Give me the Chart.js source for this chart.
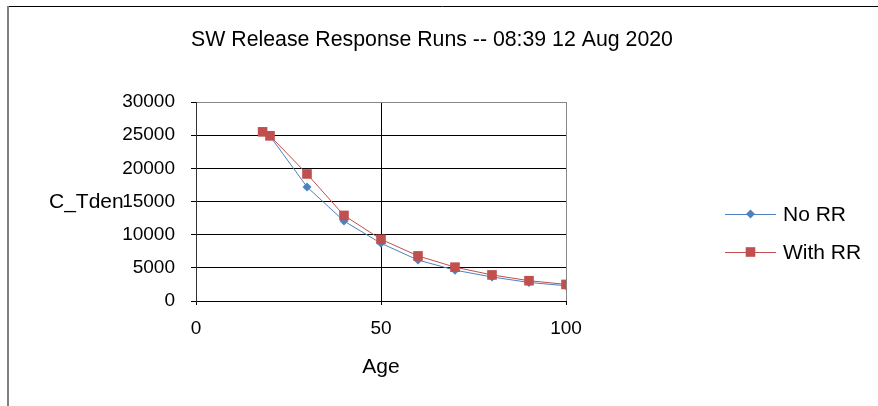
<!DOCTYPE html>
<html>
<head>
<meta charset="utf-8">
<script src="https://cdn.jsdelivr.net/npm/chart.js@4/dist/chart.umd.min.js"></script>
<style>
  html, body { margin: 0; padding: 0; background: #fff; }
  #wrap { width: 878px; height: 406px; position: relative; }
</style>
</head>
<body>
<div id="wrap"><canvas id="c" width="878" height="406"></canvas></div>
<script>
// Release response runs: C_Tden by age
const ages = [18, 20, 30, 40, 50, 60, 70, 80, 90, 100];
const noRR = [25500, 24850, 17200, 12050, 8700, 6170, 4650, 3620, 2800, 2300];
const withRR = [25500, 24900, 19150, 12900, 9300, 6800, 5100, 3930, 3060, 2500];
const xTicks = [0, 50, 100];
const yTicks = [0, 5000, 10000, 15000, 20000, 25000, 30000];
const chartTitle = 'SW Release Response Runs -- 08:39 12 Aug 2020';

const FONT = 'Liberation Sans, Arial, sans-serif';
const BLUE = '#4F81BD';
const RED = '#C0504D';

function pts(xs, ys) { return xs.map((x, i) => ({ x: x, y: ys[i] })); }

// frame lines, chart title, horizontal y-axis title and legend
const decor = {
  id: 'decor',
  beforeDraw(chart) {
    const ctx = chart.ctx;
    ctx.save();
    ctx.fillStyle = '#fff';
    ctx.fillRect(0, 0, chart.width, chart.height);
    ctx.strokeStyle = '#000';
    ctx.lineWidth = 1;
    ctx.beginPath();
    ctx.moveTo(7, 6.5);
    ctx.lineTo(chart.width, 6.5);
    ctx.stroke();
    ctx.strokeStyle = '#808080';
    ctx.lineWidth = 2;
    ctx.beginPath();
    ctx.moveTo(8, 6);
    ctx.lineTo(8, chart.height);
    ctx.stroke();
    ctx.restore();
  },
  afterDraw(chart) {
    const ctx = chart.ctx;
    const area = chart.chartArea;
    ctx.save();
    ctx.fillStyle = '#000';
    ctx.textBaseline = 'middle';

    ctx.font = '21.3px ' + FONT;
    ctx.textAlign = 'center';
    ctx.fillText(chartTitle, 432, 40);

    ctx.font = '21px ' + FONT;
    ctx.textAlign = 'left';
    ctx.fillText('C_Tden', 49, (area.top + area.bottom) / 2 + 1);

    // legend: short line with centered marker, then label
    const items = chart.data.datasets;
    const x0 = 725, x1 = 776, tx = 783;
    const ys = [214, 252];
    items.forEach((ds, i) => {
      const y = ys[i];
      ctx.strokeStyle = ds.borderColor;
      ctx.lineWidth = 1;
      ctx.beginPath();
      ctx.moveTo(x0, y + 0.5);
      ctx.lineTo(x1, y + 0.5);
      ctx.stroke();
      const cx = (x0 + x1) / 2;
      ctx.fillStyle = ds.pointBackgroundColor;
      ctx.beginPath();
      if (ds.pointStyle === 'rectRot') {
        const r = ds.pointRadius;
        ctx.moveTo(cx, y - r);
        ctx.lineTo(cx + r, y);
        ctx.lineTo(cx, y + r);
        ctx.lineTo(cx - r, y);
        ctx.closePath();
      } else {
        const h = Math.SQRT1_2 * ds.pointRadius;
        ctx.rect(cx - h, y - h, 2 * h, 2 * h);
      }
      ctx.fill();
      ctx.fillStyle = '#000';
      ctx.fillText(ds.label, tx, y + 1);
    });
    ctx.restore();
  }
};

const edgeGray = '#868686';

new Chart(document.getElementById('c'), {
  type: 'scatter',
  data: {
    datasets: [
      {
        label: 'No RR',
        data: pts(ages, noRR),
        showLine: true,
        borderColor: BLUE,
        backgroundColor: BLUE,
        pointBackgroundColor: BLUE,
        pointBorderColor: BLUE,
        borderWidth: 1,
        pointStyle: 'rectRot',
        pointRadius: 4.5,
        pointBorderWidth: 0,
        order: 1
      },
      {
        label: 'With RR',
        data: pts(ages, withRR),
        showLine: true,
        borderColor: RED,
        backgroundColor: RED,
        pointBackgroundColor: RED,
        pointBorderColor: RED,
        borderWidth: 1,
        pointStyle: 'rect',
        pointRadius: 6.8,
        pointBorderWidth: 0,
        order: 0
      }
    ]
  },
  options: {
    responsive: false,
    animation: false,
    devicePixelRatio: 1,
    layout: { padding: { left: 0, right: 312, top: 102, bottom: 0 } },
    plugins: {
      legend: { display: false },
      tooltip: { enabled: false },
      title: { display: false }
    },
    scales: {
      x: {
        type: 'linear',
        min: 0,
        max: 100,
        afterBuildTicks(scale) { scale.ticks = xTicks.map(v => ({ value: v })); },
        afterFit(scale) { scale.height = 105; },
        ticks: {
          color: '#000',
          font: { family: FONT, size: 19 },
          padding: 12,
          maxRotation: 0
        },
        grid: {
          color: ctx => (ctx.tick && ctx.tick.value === 100 ? edgeGray : '#000'),
          tickColor: '#000',
          tickLength: 4,
          lineWidth: 1
        },
        border: { display: true, color: '#000', width: 1 },
        title: {
          display: true,
          text: 'Age',
          color: '#000',
          font: { family: FONT, size: 21 },
          padding: { top: 16, bottom: 26 }
        }
      },
      y: {
        type: 'linear',
        min: 0,
        max: 30000,
        afterBuildTicks(scale) { scale.ticks = yTicks.map(v => ({ value: v })); },
        afterFit(scale) { scale.width = 196; },
        ticks: {
          color: '#000',
          font: { family: FONT, size: 19 },
          padding: 16,
          callback: v => String(v)
        },
        grid: {
          color: ctx => (ctx.tick && ctx.tick.value === 30000 ? edgeGray : '#000'),
          tickColor: '#000',
          tickLength: 5,
          lineWidth: 1
        },
        border: { display: true, color: '#333', width: 1 }
      }
    }
  },
  plugins: [decor]
});
</script>
</body>
</html>
